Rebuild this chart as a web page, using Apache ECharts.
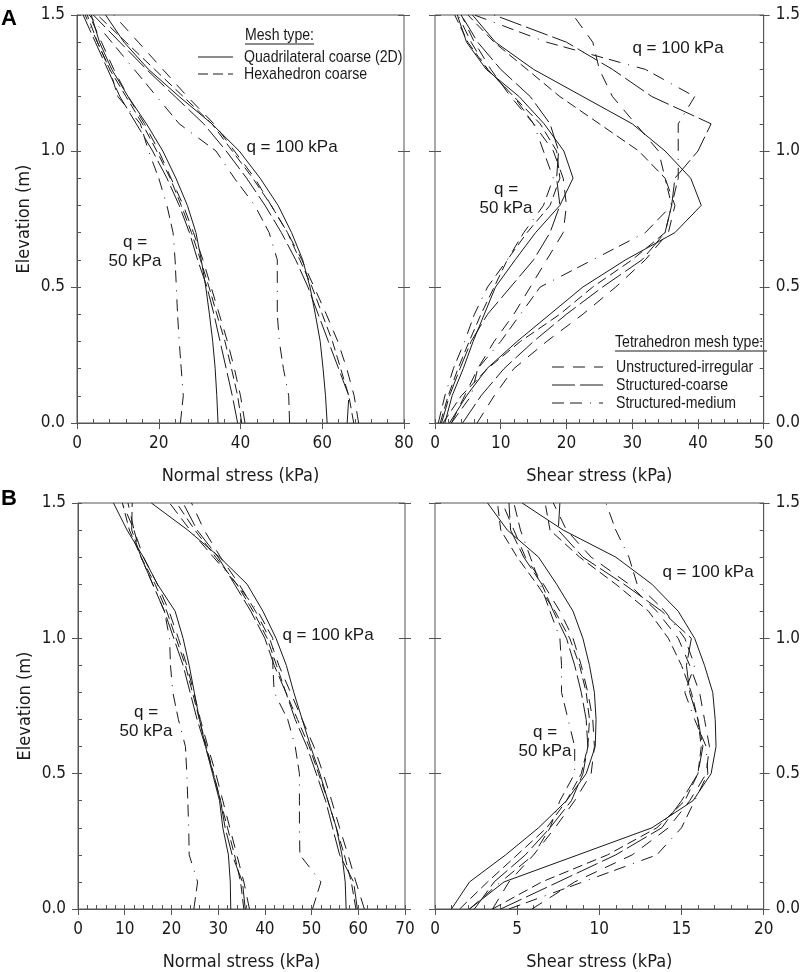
<!DOCTYPE html>
<html>
<head>
<meta charset="utf-8">
<script src="https://cdn.jsdelivr.net/npm/echarts@6/dist/echarts.min.js"></script>
<style>
  html, body { margin: 0; padding: 0; background: #fff; }
  #chart { width: 803px; height: 972px; }
</style>
</head>
<body>
<div id="chart"></div>
<script>
// elevation of the sampled points (m), shared by every curve
var elevation = [0, 0.1, 0.2, 0.3, 0.4, 0.5, 0.6, 0.7, 0.8, 0.9, 1.0, 1.1, 1.2, 1.3, 1.4, 1.5];

// order of rows in every data block below
var meshTypes = ['Quadrilateral coarse (2D)', 'Hexahedron coarse', 'Unstructured-irregular', 'Structured-coarse', 'Structured-medium'];

// A - normal stress (kPa)
var aNormal50 = [
    [34.5, 34.2, 33.8, 33.2, 32.4, 31.5, 30.4, 29.1, 27.0, 24.2, 21.0, 17.0, 12.5, 8.5, 5.5, 3.5],
    [40.3, 39.3, 37.8, 36.2, 34.2, 32.3, 30.2, 28.0, 25.5, 22.8, 19.5, 16.0, 12.0, 8.0, 5.0, 2.5],
    [41.1, 40.0, 38.5, 36.8, 34.8, 32.8, 30.8, 28.5, 26.0, 23.0, 20.0, 16.5, 12.5, 9.0, 6.0, 3.0],
    [39.3, 38.0, 36.5, 35.0, 33.5, 31.8, 29.5, 27.5, 25.0, 22.0, 18.5, 14.5, 10.5, 7.5, 4.5, 1.5],
    [25.3, 26.0, 25.5, 25.0, 24.6, 24.3, 24.0, 23.5, 22.0, 20.0, 17.5, 15.5, 10.0, 8.0, 5.0, 2.0]
];
var aNormal100 = [
    [61.2, 60.8, 60.2, 59.5, 58.3, 57.0, 55.2, 52.5, 49.2, 44.8, 39.7, 33.0, 25.0, 17.5, 11.5, 7.0],
    [67.7, 66.5, 64.5, 62.5, 60.0, 57.5, 54.5, 51.5, 47.5, 43.0, 38.0, 33.0, 26.0, 19.0, 12.0, 5.0],
    [68.9, 67.8, 66.0, 63.8, 61.0, 58.0, 55.0, 51.5, 47.5, 43.5, 38.5, 33.5, 27.0, 21.0, 15.0, 9.0],
    [66.1, 66.5, 64.0, 61.5, 59.0, 56.5, 53.5, 50.0, 46.0, 41.5, 36.5, 31.0, 24.0, 17.0, 10.5, 4.0],
    [52.0, 51.8, 50.5, 49.5, 49.0, 49.0, 49.0, 47.0, 43.5, 38.5, 34.0, 25.0, 19.5, 14.0, 8.5, 3.0]
];

// A - shear stress (kPa)
var aShear50 = [
    [1.5, 2.6, 4.3, 5.8, 7.5, 9.2, 12.2, 15.3, 19.0, 21.0, 19.6, 16.6, 12.8, 7.8, 4.8, 3.4],
    [0.8, 2.0, 3.5, 5.2, 7.0, 9.0, 11.0, 14.0, 17.5, 19.0, 18.5, 16.0, 12.0, 8.0, 5.0, 3.0],
    [2.5, 4.5, 6.5, 9.0, 12.0, 14.5, 17.0, 19.5, 20.0, 19.5, 18.0, 15.0, 11.5, 8.5, 6.0, 4.0],
    [1.0, 2.2, 3.8, 5.5, 8.0, 11.5, 15.0, 17.5, 19.0, 18.5, 18.8, 17.5, 14.5, 10.0, 6.5, 4.0],
    [0.5, 1.5, 2.8, 4.5, 6.0, 8.0, 11.0, 13.5, 16.5, 18.0, 16.5, 15.0, 12.0, 8.0, 5.5, 3.5]
];
var aShear100 = [
    [2.2, 4.8, 7.9, 12.5, 17.5, 22.5, 29.0, 36.5, 40.5, 38.9, 35.0, 30.0, 22.5, 15.0, 9.2, 5.7],
    [1.2, 4.0, 8.0, 13.0, 19.0, 24.0, 30.0, 35.0, 36.0, 35.0, 31.0, 25.0, 19.0, 14.0, 9.0, 5.0],
    [6.4, 9.0, 12.0, 17.0, 22.5, 27.5, 32.0, 35.5, 36.5, 35.0, 34.0, 30.5, 27.0, 25.0, 24.0, 21.0],
    [4.2, 7.0, 10.5, 15.0, 20.0, 25.5, 31.5, 35.0, 36.0, 36.5, 40.0, 42.0, 33.0, 27.0, 20.0, 9.0],
    [2.5, 5.5, 6.5, 10.0, 13.0, 16.0, 24.0, 32.0, 36.0, 37.0, 37.0, 37.0, 39.5, 32.0, 17.0, 6.0]
];

// B - normal stress (kPa)
var bNormal50 = [
    [32.7, 32.6, 32.2, 31.0, 30.3, 28.8, 27.3, 26.0, 24.9, 23.8, 22.5, 20.8, 17.0, 14.0, 10.5, 7.6],
    [35.5, 34.8, 33.5, 32.0, 30.5, 29.0, 27.5, 26.0, 24.5, 23.0, 21.0, 19.0, 16.5, 13.5, 11.0, 9.5],
    [36.7, 35.5, 34.0, 32.5, 31.0, 29.5, 27.8, 26.2, 24.8, 23.3, 21.5, 19.5, 17.0, 14.0, 12.0, 10.7],
    [35.8, 35.2, 33.0, 31.5, 30.5, 29.0, 27.3, 25.5, 24.0, 22.5, 20.5, 18.5, 16.0, 13.5, 11.5, 11.6],
    [24.8, 25.6, 23.8, 23.7, 23.5, 23.3, 23.0, 21.5, 20.3, 19.8, 19.6, 18.5, 16.0, 13.5, 12.0, 9.5]
];
var bNormal100 = [
    [57.4, 57.2, 56.5, 55.3, 53.5, 51.8, 49.8, 48.0, 46.2, 44.6, 42.4, 39.6, 36.2, 30.3, 23.5, 15.7],
    [59.5, 58.5, 57.0, 55.3, 53.5, 51.5, 49.5, 47.0, 44.5, 42.5, 40.5, 37.5, 34.0, 29.5, 25.0, 21.1],
    [61.3, 59.5, 57.8, 56.0, 54.3, 52.5, 50.5, 48.0, 45.5, 43.0, 41.0, 38.0, 34.5, 30.5, 27.0, 24.3],
    [59.8, 59.0, 56.0, 54.5, 53.0, 51.0, 49.0, 46.5, 44.5, 42.0, 40.0, 37.0, 33.5, 30.0, 25.5, 22.5],
    [50.2, 52.0, 47.5, 47.4, 47.4, 47.4, 46.5, 44.9, 42.0, 41.7, 41.7, 38.5, 34.0, 29.0, 24.0, 19.6]
];

// B - shear stress (kPa)
var bShear50 = [
    [1.0, 2.1, 4.3, 6.3, 8.0, 9.2, 9.75, 9.8, 9.7, 9.4, 9.0, 8.4, 7.4, 6.3, 4.4, 3.2],
    [1.5, 3.2, 5.0, 6.8, 8.0, 8.9, 9.3, 9.4, 9.2, 8.8, 8.2, 7.3, 6.2, 5.0, 4.0, 3.8],
    [3.5, 4.5, 6.0, 7.3, 8.5, 9.5, 9.7, 9.6, 9.3, 8.9, 8.4, 7.6, 6.6, 5.5, 4.8, 4.1],
    [2.4, 3.6, 5.5, 7.0, 8.3, 9.0, 9.3, 9.2, 8.9, 8.5, 8.0, 7.2, 6.5, 5.4, 4.6, 4.5],
    [2.1, 4.0, 6.0, 7.0, 7.6, 8.5, 8.5, 8.1, 7.7, 7.7, 7.6, 7.0, 6.4, 5.8, 5.2, 4.8]
];
var bShear100 = [
    [2.1, 4.2, 8.7, 13.2, 15.7, 16.8, 17.1, 17.05, 16.9, 16.4, 15.8, 14.8, 13.2, 11.0, 7.8, 5.3],
    [3.5, 6.5, 10.5, 13.5, 15.2, 16.0, 16.2, 16.0, 15.6, 15.0, 14.2, 13.0, 11.0, 8.8, 7.0, 6.7],
    [5.9, 8.5, 12.0, 14.2, 15.5, 16.5, 16.7, 16.4, 16.1, 15.5, 14.8, 13.5, 11.8, 9.5, 8.0, 7.2],
    [4.0, 7.5, 11.0, 13.8, 15.0, 16.0, 16.3, 16.0, 15.5, 15.3, 15.6, 13.8, 11.5, 9.0, 7.5, 7.6],
    [4.5, 9.0, 13.5, 15.0, 15.8, 16.6, 16.5, 15.8, 15.2, 15.8, 15.2, 14.0, 12.3, 11.8, 11.0, 10.4]
];

var ink = '#1a1a1a';
var frame = '#555';
var narrow = "'DejaVu Sans Condensed', sans-serif";
var regular = "'Liberation Sans', Arial, sans-serif";

// dash pattern per mesh type, same order as meshTypes
var dashes = ['solid', [10, 5], [12, 9], [23, 5], [12, 6, 12, 8, 1, 8]];

var panels = [
    {left: 77, top: 15, width: 327, xMax: 80, xStep: 20, xMinor: 4, xName: 'Normal stress (kPa)', ySide: 'left', sets: [aNormal50, aNormal100]},
    {left: 435, top: 15, width: 336, xMax: 50, xStep: 10, xMinor: 2, xName: 'Shear stress (kPa)', ySide: 'right', sets: [aShear50, aShear100]},
    {left: 78, top: 503, width: 327, xMax: 70, xStep: 10, xMinor: 2, xName: 'Normal stress (kPa)', ySide: 'left', sets: [bNormal50, bNormal100]},
    {left: 435, top: 503, width: 336, xMax: 20, xStep: 5, xMinor: 1, xName: 'Shear stress (kPa)', ySide: 'right', sets: [bShear50, bShear100]}
];

var grid = [], xAxis = [], yAxis = [], series = [];

panels.forEach(function (p, i) {
    grid.push({left: p.left, top: p.top, width: p.width, height: 408, show: true, borderColor: frame, borderWidth: 1});

    var mainX = xAxis.length;
    xAxis.push({
        gridIndex: i, type: 'value', position: 'bottom', min: 0, max: p.xMax, interval: p.xStep,
        name: p.xName, nameLocation: 'middle', nameGap: 44,
        nameTextStyle: {fontFamily: narrow, fontSize: 18, color: ink},
        axisLine: {onZero: false, lineStyle: {color: frame}},
        axisTick: {inside: false, length: 6, lineStyle: {color: frame}},
        axisLabel: {margin: 12, fontFamily: narrow, fontSize: 17, color: ink},
        splitLine: {show: false}
    });
    // minor ticks point into the plot
    xAxis.push({
        gridIndex: i, type: 'value', position: 'bottom', min: 0, max: p.xMax, interval: p.xMinor,
        axisLine: {show: false, onZero: false}, axisLabel: {show: false}, splitLine: {show: false},
        axisTick: {inside: true, length: 4, lineStyle: {color: frame}}
    });

    var other = p.ySide === 'left' ? 'right' : 'left';
    var mainY = yAxis.length;
    yAxis.push({
        gridIndex: i, type: 'value', position: p.ySide, min: 0, max: 1.5, interval: 0.5,
        name: p.ySide === 'left' ? 'Elevation (m)' : '', nameLocation: 'middle', nameGap: 44,
        nameTextStyle: {fontFamily: narrow, fontSize: 18, color: ink},
        axisLine: {onZero: false, lineStyle: {color: frame}},
        axisTick: {inside: false, length: 6, lineStyle: {color: frame}},
        axisLabel: {margin: 12, fontFamily: narrow, fontSize: 17, color: ink, formatter: function (v) { return v.toFixed(1); }},
        splitLine: {show: false}
    });
    yAxis.push({
        gridIndex: i, type: 'value', position: p.ySide, min: 0, max: 1.5, interval: 0.1,
        axisLine: {show: false, onZero: false}, axisLabel: {show: false}, splitLine: {show: false},
        axisTick: {inside: true, length: 4, lineStyle: {color: frame}}
    });
    // ticks crossing the border on the unlabelled side
    [true, false].forEach(function (inside) {
        yAxis.push({
            gridIndex: i, type: 'value', position: other, min: 0, max: 1.5, interval: 0.5,
            axisLine: {show: false, onZero: false}, axisLabel: {show: false}, splitLine: {show: false},
            axisTick: {inside: inside, length: 6, lineStyle: {color: frame}}
        });
    });

    p.sets.forEach(function (set, s) {
        set.forEach(function (vals, m) {
            series.push({
                name: meshTypes[m] + (s === 0 ? ' q=50' : ' q=100'),
                type: 'line', xAxisIndex: mainX, yAxisIndex: mainY,
                showSymbol: false, symbol: 'none', silent: true,
                lineStyle: {color: ink, width: 1, type: dashes[m]},
                data: vals.map(function (v, k) { return [v, elevation[k]]; })
            });
        });
    });
});

function label(text, x, y) {
    return {type: 'text', x: x, y: y, style: {text: text, fill: ink, font: '17px ' + regular, align: 'center', verticalAlign: 'middle', lineHeight: 19}};
}
// key text: Arial squeezed to look like the narrow face of the original
function keyText(text, x, y) {
    return {type: 'text', x: x, y: y, scaleX: 0.83, style: {text: text, fill: ink, font: '17px ' + regular, align: 'left', verticalAlign: 'middle'}};
}
function sample(x1, x2, y, dash) {
    return {type: 'line', shape: {x1: x1, y1: y, x2: x2, y2: y}, style: {stroke: ink, lineWidth: 1, lineDash: dash === 'solid' ? null : dash}};
}

var graphic = [
    {type: 'text', x: 1, y: 19, style: {text: 'A', fill: '#000', font: 'bold 22px ' + regular, verticalAlign: 'middle'}},
    {type: 'text', x: 1, y: 499, style: {text: 'B', fill: '#000', font: 'bold 22px ' + regular, verticalAlign: 'middle'}},

    label('q = 100 kPa', 292, 147),
    label('q =\n50 kPa', 135, 252),
    label('q = 100 kPa', 678, 48),
    label('q =\n50 kPa', 506, 199),
    label('q = 100 kPa', 328, 635),
    label('q =\n50 kPa', 146, 722),
    label('q = 100 kPa', 708, 572),
    label('q =\n50 kPa', 545, 742),

    // mesh type key
    keyText('Mesh type:', 245, 35),
    {type: 'line', shape: {x1: 245, y1: 44, x2: 314, y2: 44}, style: {stroke: ink, lineWidth: 1}},
    sample(198, 233, 57, dashes[0]), keyText(meshTypes[0], 244, 57),
    sample(198, 233, 74, dashes[1]), keyText(meshTypes[1], 244, 74),

    // tetrahedron key
    keyText('Tetrahedron mesh type:', 615, 342),
    {type: 'line', shape: {x1: 615, y1: 351, x2: 767, y2: 351}, style: {stroke: ink, lineWidth: 1}},
    sample(552, 603, 367, dashes[2]), keyText(meshTypes[2], 616, 367),
    sample(552, 603, 385, dashes[3]), keyText(meshTypes[3], 616, 385),
    sample(552, 603, 403, dashes[4]), keyText(meshTypes[4], 616, 403)
];

var myChart = echarts.init(document.getElementById('chart'), null, {renderer: 'canvas'});
myChart.setOption({
    animation: false,
    backgroundColor: '#fff',
    grid: grid,
    xAxis: xAxis,
    yAxis: yAxis,
    series: series,
    graphic: graphic
});
</script>
</body>
</html>
